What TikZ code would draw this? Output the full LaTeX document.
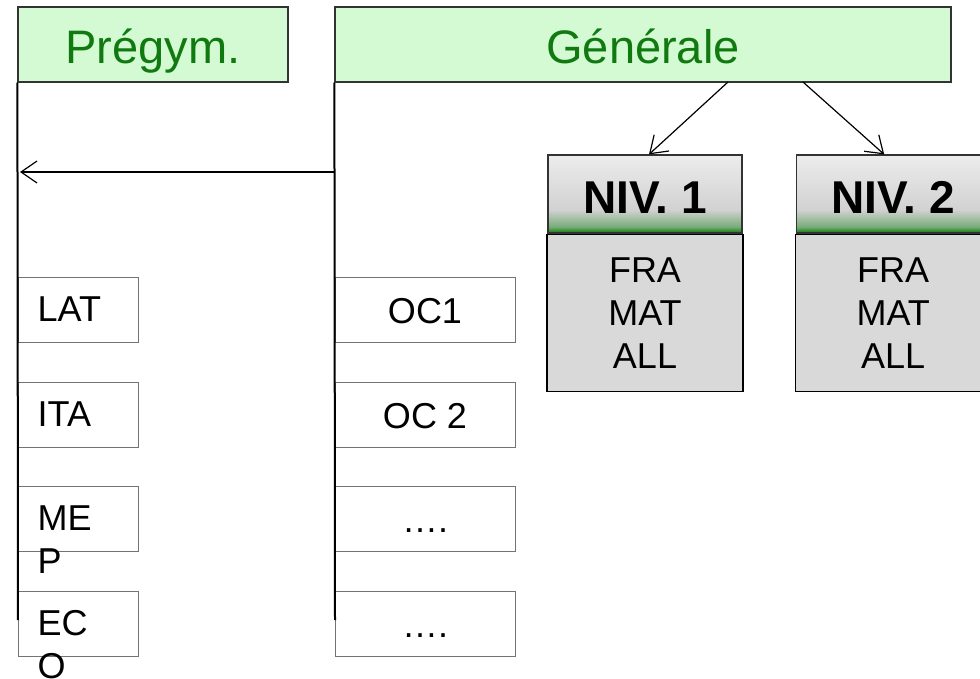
\documentclass[tikz,border=0pt]{standalone}
\usepackage{fontspec}
\setmainfont{Liberation Sans}
\usetikzlibrary{positioning, arrows.meta}

\definecolor{headfill}{RGB}{212,250,212}
\definecolor{headtext}{RGB}{16,122,16}
\definecolor{nivgreen}{RGB}{10,125,10}
\definecolor{nivgray}{RGB}{210,210,210}
\definecolor{nivtop}{RGB}{236,236,236}
\definecolor{listfill}{RGB}{217,217,217}

\pgfdeclareverticalshading{nivshade}{100bp}{color(0bp)=(nivgreen); color(25bp)=(nivgreen); color(29bp)=(nivgreen!45!nivgray); color(40bp)=(nivgray); color(75bp)=(nivtop); color(100bp)=(nivtop)}

\tikzset{
  filiere/.style={draw=black!80, line width=1.2pt, fill=headfill, text=headtext,
    inner sep=0pt, minimum height=75pt, text height=37pt, text depth=0pt,
    font=\fontsize{47}{56}\selectfont},
  branche/.style={draw=black, line width=2pt},
  option/.style={draw=black!55, line width=1pt, inner sep=0pt, minimum height=65pt,
    text height=27pt, text depth=0pt, font=\fontsize{36}{43}\selectfont},
  optlabel/.style={anchor=north west, inner sep=0pt, align=left,
    font=\fontsize{36}{43}\selectfont},
  niveau/.style={draw=black!80, line width=1.2pt, shading=nivshade, inner sep=0pt,
    minimum width=194pt, minimum height=78pt, text height=38pt, text depth=0pt,
    font=\bfseries\fontsize{46}{55}\selectfont},
  matieres/.style={draw=black, line width=1.2pt, fill=listfill, inner sep=0pt,
    minimum width=196pt, minimum height=157pt, align=center,
    font=\fontsize{36}{43}\selectfont},
  fleche/.style={-{Straight Barb[length=16pt,width=22pt]}, line width=1.2pt},
}

\begin{document}
\begin{tikzpicture}[x=1pt, y=-1pt]
  \clip (0,0) rectangle (980,678);
  \fill[white] (0,0) rectangle (980,678);

  \node[filiere, minimum width=270pt] (preg) at (153,44.5) {Prégym.};
  \node[filiere, minimum width=616pt] (gen) at (643,44.5) {Générale};

  \node[option, minimum width=120pt] (lat) at (78,309.5) {};
  \node[option, minimum width=120pt, below=39pt of lat] (ita) {};
  \node[option, minimum width=120pt, below=38pt of ita] (mep) {};
  \node[option, minimum width=120pt, below=39pt of mep] (eco) {};
  \node[optlabel] at ([shift={(20pt,-20pt)}]lat.north west) {LAT};
  \node[optlabel] at ([shift={(20pt,-20pt)}]ita.north west) {ITA};
  \node[optlabel] at ([shift={(20pt,-20pt)}]mep.north west) {ME\\P};
  \node[optlabel] at ([shift={(20pt,-20pt)}]eco.north west) {EC\\O};

  \node[option, minimum width=180pt] (oc1) at (425,309.5) {OC1};
  \node[option, minimum width=180pt, below=39pt of oc1] (oc2) {OC 2};
  \node[option, minimum width=180pt, below=38pt of oc2] (oc3) {\dots.};
  \node[option, minimum width=180pt, below=39pt of oc3] (oc4) {\dots.};

  \node[niveau] (niv1) at (645,194) {NIV. 1};
  \node[niveau, right=53pt of niv1] (niv2) {NIV. 2};
  \node[matieres, below=0pt of niv1] (mat1) {FRA\\MAT\\ALL};
  \node[matieres, below=0pt of niv2] (mat2) {FRA\\MAT\\ALL};

  \coordinate (pregbas) at (18,620);
  \coordinate (genbas) at (335,620);
  \coordinate (pregfl) at (20,172);
  \coordinate (genfl) at (335,172);
  \coordinate (gen1) at (728,82);
  \coordinate (gen2) at (803,82);

  \draw[branche] (preg.south west) -- (pregbas);
  \draw[branche] (gen.south west) -- (genbas);
  \draw[fleche] (genfl) -- (pregfl);
  \draw[fleche] (gen1) -- ([xshift=4pt]niv1.north);
  \draw[fleche] (gen2) -- ([xshift=-9pt]niv2.north);
\end{tikzpicture}
\end{document}
